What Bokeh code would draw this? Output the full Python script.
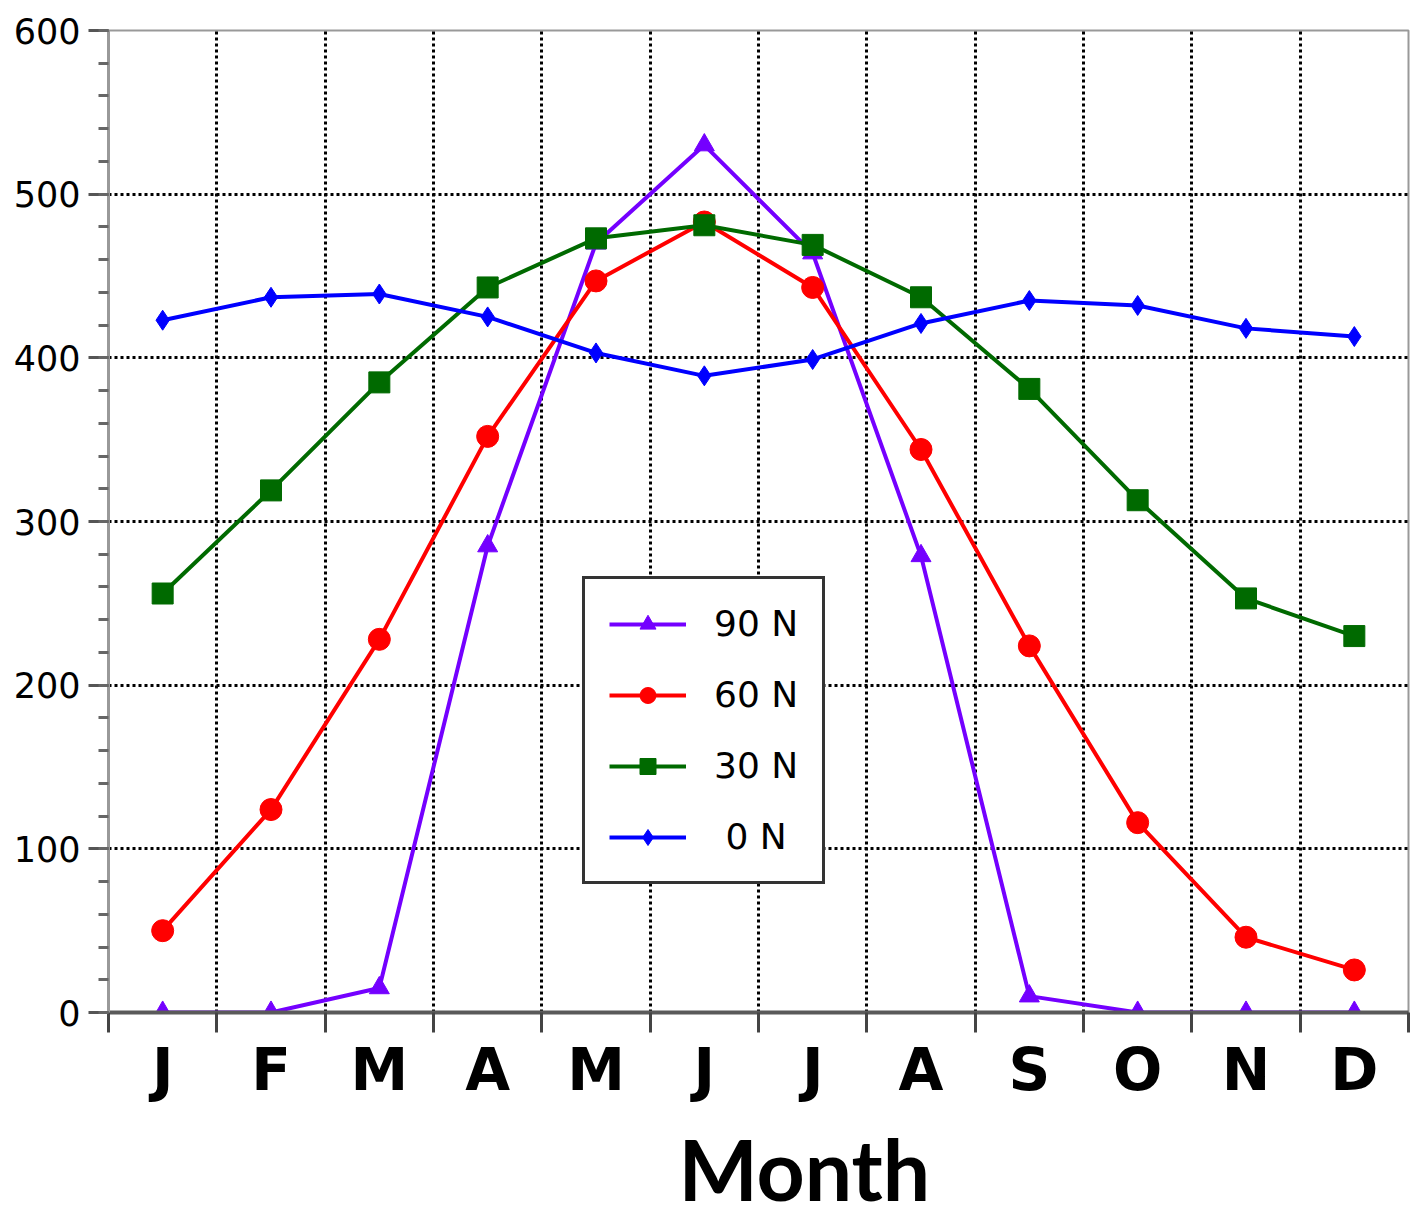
from bokeh.plotting import figure
from bokeh.models import Range1d, FixedTicker, SingleIntervalTicker, Legend, LegendItem, Title
from bokeh.embed import file_html
from bokeh.resources import INLINE

months = ["J", "F", "M", "A", "M", "J", "J", "A", "S", "O", "N", "D"]
month_pos = [1, 2, 3, 4, 5, 6, 7, 8, 9, 10, 11, 12]
month_bounds = [0.5, 1.5, 2.5, 3.5, 4.5, 5.5, 6.5, 7.5, 8.5, 9.5, 10.5, 11.5, 12.5]

lat90 = [0, 0, 15, 285, 470, 530, 464, 279, 10, 0, 0, 0]
lat60 = [50, 124, 228, 352, 447, 483, 443, 344, 224, 116, 46, 26]
lat30 = [256, 319, 385, 443, 473, 481, 469, 437, 381, 313, 253, 230]
lat0 = [423, 437, 439, 425, 403, 389, 399, 421, 435, 432, 418, 413]

series_labels = ["90 N", "60 N", "30 N", "\u00a00 N"]

p = figure(width=1410, height=1228, output_backend="svg", toolbar_location=None,
           x_range=Range1d(0.5, 12.5), y_range=Range1d(0, 600),
           min_border_left=108, min_border_right=2, min_border_top=30, min_border_bottom=216)
p.background_fill_color = "white"
p.border_fill_color = "white"
p.outline_line_color = "#999999"
p.outline_line_width = 2

# x axis
xax = p.xaxis[0]
xax.ticker = FixedTicker(ticks=month_pos, minor_ticks=month_bounds)
xax.major_label_overrides = {i: m for i, m in zip(month_pos, months)}
xax.major_tick_out = 0
xax.major_tick_in = 0
xax.minor_tick_out = 20
xax.minor_tick_in = 0
xax.minor_tick_line_color = "#444444"
xax.minor_tick_line_width = 3
xax.axis_line_color = "#5a5a5a"
xax.axis_line_width = 4
xax.major_label_text_font = "DejaVu Sans"
xax.major_label_text_font_style = "bold"
xax.major_label_text_font_size = "58px"
xax.major_label_text_color = "black"
xax.major_label_standoff = 3

# y axis
yax = p.yaxis[0]
yax.ticker = SingleIntervalTicker(interval=100, num_minor_ticks=5)
yax.major_tick_out = 20
yax.major_tick_in = 0
yax.minor_tick_out = 10
yax.minor_tick_in = 0
yax.major_tick_line_color = "#555555"
yax.major_tick_line_width = 3
yax.minor_tick_line_color = "#666666"
yax.minor_tick_line_width = 3
yax.axis_line_color = "#999999"
yax.axis_line_width = 3
yax.major_label_text_font = "DejaVu Sans"
yax.major_label_text_font_size = "35px"
yax.major_label_text_color = "black"
yax.major_label_standoff = 8

# grid
p.xgrid.ticker = FixedTicker(ticks=month_bounds)
for g in (p.xgrid[0], p.ygrid[0]):
    g.grid_line_color = "black"
    g.grid_line_width = 3
    g.grid_line_dash = "3 3"

styles = [
    (lat90, "#7400ff", "triangle", 20),
    (lat60, "#ff0000", "circle", 22),
    (lat30, "#006a00", "square", 21),
    (lat0, "#0000ff", "diamond", 20),
]

items = []
for (vals, color, marker, size), lab in zip(styles, series_labels):
    r1 = p.line(month_pos, vals, line_color=color, line_width=4)
    r2 = p.scatter(month_pos, vals, marker=marker, size=size, fill_color=color, line_color=color)
    items.append(LegendItem(label=lab, renderers=[r1, r2]))

legend = Legend(items=items, location=(474, 128), margin=0)
legend.padding = 24
legend.spacing = 30
legend.glyph_height = 40
legend.glyph_width = 77
legend.label_standoff = 28
legend.label_text_font = "DejaVu Sans"
legend.label_text_font_size = "36px"
legend.label_text_color = "black"
legend.border_line_color = "#333333"
legend.border_line_alpha = 1.0
legend.border_line_width = 3
legend.background_fill_color = "white"
legend.background_fill_alpha = 1.0
p.add_layout(legend, "center")

# x-axis title
title = Title(text="Month", align="left", offset=570, standoff=19, text_line_height=0.7,
              text_font="Lato", text_font_style="bold", text_font_size="84px", text_color="black")
p.add_layout(title, "below")

open("out.html", "w").write(file_html(p, INLINE))
